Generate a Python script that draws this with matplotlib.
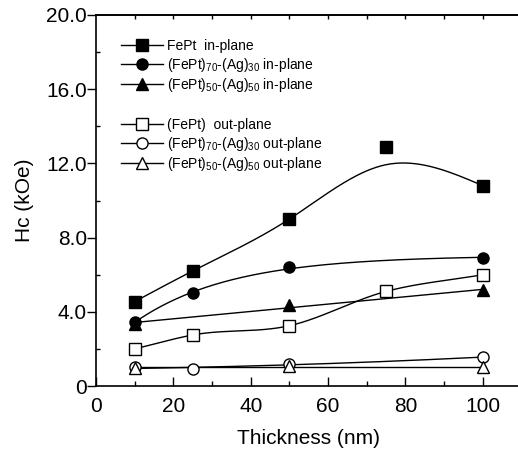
#!/usr/bin/env python

"""Coercivity vs film thickness for FePt and FePt-Ag films"""

import numpy as np
import matplotlib
matplotlib.use('Agg')
import matplotlib.pyplot as plt
from matplotlib.lines import Line2D
from matplotlib.ticker import MultipleLocator, FuncFormatter

plt.rcParams['font.family'] = ['Liberation Sans', 'DejaVu Sans']
plt.rcParams['mathtext.fontset'] = 'custom'
plt.rcParams['mathtext.rm'] = 'Liberation Sans'
plt.rcParams['mathtext.default'] = 'rm'

# thickness (nm) and Hc (kOe)
fept_in_x = [10, 25, 50, 75, 100]
fept_in_y = [4.55, 6.2, 9.0, 12.9, 10.8]
ag30_in_x = [10, 25, 50, 100]
ag30_in_y = [3.45, 5.0, 6.4, 6.9]
ag50_in_x = [10, 50, 100]
ag50_in_y = [3.35, 4.35, 5.15]
fept_out_x = [10, 25, 50, 75, 100]
fept_out_y = [2.0, 2.75, 3.25, 5.1, 6.0]
ag30_out_x = [10, 25, 50, 100]
ag30_out_y = [1.0, 0.9, 1.2, 1.55]
ag50_out_x = [10, 50, 100]
ag50_out_y = [0.97, 1.09, 1.04]

labels = [
    'FePt  in-plane',
    r'(FePt)$_{70}$-(Ag)$_{30}$ in-plane',
    r'(FePt)$_{50}$-(Ag)$_{50}$ in-plane',
    '(FePt)  out-plane',
    r'(FePt)$_{70}$-(Ag)$_{30}$ out-plane',
    r'(FePt)$_{50}$-(Ag)$_{50}$ out-plane',
]


def poly_curve(x, y, deg):
    """Least squares polynomial"""
    x = np.asarray(x, float)
    xs = np.linspace(x.min(), x.max(), 200)
    return xs, np.polyval(np.polyfit(x, y, deg), xs)


def exp_curve(x, y):
    """Least squares y = A - B exp(-x / tau), tau by grid search"""
    x = np.asarray(x, float)
    y = np.asarray(y, float)
    best = None
    for tau in np.linspace(5, 200, 800):
        M = np.column_stack([np.ones_like(x), -np.exp(-x / tau)])
        coef = np.linalg.lstsq(M, y, rcond=None)[0]
        err = np.sum((M @ coef - y) ** 2)
        if best is None or err < best[0]:
            best = (err, tau, coef)
    _, tau, (A, B) = best
    xs = np.linspace(x.min(), x.max(), 200)
    return xs, A - B * np.exp(-xs / tau)


def hermite_curve(x, y):
    """Cubic hermite curve through the points"""
    x = np.asarray(x, float)
    y = np.asarray(y, float)
    m = np.gradient(y, x)
    xs, ys = [], []
    t = np.linspace(0, 1, 50)
    for i in range(len(x) - 1):
        h = x[i + 1] - x[i]
        h00 = 2 * t**3 - 3 * t**2 + 1
        h10 = t**3 - 2 * t**2 + t
        h01 = -2 * t**3 + 3 * t**2
        h11 = t**3 - t**2
        xs += list(x[i] + t * h)
        ys += list(h00 * y[i] + h10 * h * m[i] + h01 * y[i + 1] + h11 * h * m[i + 1])
    return np.array(xs), np.array(ys)


def spline_curve(x, y, lam, w):
    """Weighted cubic smoothing spline (Reinsch)"""
    x = np.asarray(x, float)
    y = np.asarray(y, float)
    n = len(x)
    h = np.diff(x)
    Q = np.zeros((n, n - 2))
    R = np.zeros((n - 2, n - 2))
    for j in range(1, n - 1):
        Q[j - 1, j - 1] = 1 / h[j - 1]
        Q[j, j - 1] = -1 / h[j - 1] - 1 / h[j]
        Q[j + 1, j - 1] = 1 / h[j]
        R[j - 1, j - 1] = (h[j - 1] + h[j]) / 3
        if j < n - 2:
            R[j - 1, j] = R[j, j - 1] = h[j] / 6
    Winv = np.diag(1 / np.asarray(w, float))
    gam = np.linalg.solve(R + lam * Q.T @ Winv @ Q, Q.T @ y)
    g = y - lam * Winv @ Q @ gam
    gam = np.concatenate([[0], gam, [0]])
    xs, ys = [], []
    for i in range(n - 1):
        u = np.linspace(x[i], x[i + 1], 60)
        a, b = u - x[i], x[i + 1] - u
        v = (a * g[i + 1] + b * g[i]) / h[i] \
            - a * b / 6 * ((1 + a / h[i]) * gam[i + 1] + (1 + b / h[i]) * gam[i])
        xs += list(u)
        ys += list(v)
    return np.array(xs), np.array(ys)


fig = plt.figure(figsize=(5.18, 4.53), dpi=100)
ax = fig.add_axes([96 / 518, 67 / 453, 425.5 / 518, 371 / 453])

series = [
    (fept_in_x, fept_in_y, 's', 'k', spline_curve(fept_in_x, fept_in_y, 1.0, [1, 1, 1, 0.001, 1])),
    (ag30_in_x, ag30_in_y, 'o', 'k', exp_curve(ag30_in_x, ag30_in_y)),
    (ag50_in_x, ag50_in_y, '^', 'k', poly_curve(ag50_in_x, ag50_in_y, 1)),
    (fept_out_x, fept_out_y, 's', 'w', hermite_curve(fept_out_x, fept_out_y)),
    (ag30_out_x, ag30_out_y, 'o', 'w', poly_curve(ag30_out_x, ag30_out_y, 2)),
    (ag50_out_x, ag50_out_y, '^', 'w', poly_curve(ag50_out_x, ag50_out_y, 0)),
]

handles = []
for x, y, mk, fc, (cx, cy) in series:
    ax.plot(cx, cy, color='k', lw=1.0, zorder=2)
    ax.plot(x, y, linestyle='none', marker=mk, ms=8, mfc=fc, mec='k', mew=1.0, zorder=3)
    handles.append(Line2D([], [], color='k', lw=1.0, marker=mk, ms=8, mfc=fc, mec='k', mew=1.0))

# two legend groups: in-plane and out-plane
leg_kw = dict(loc='upper left', frameon=False, fontsize=10, handlelength=3.0,
              handletextpad=0.3, labelspacing=0.18, borderaxespad=0.0)
leg1 = ax.legend(handles[:3], labels[:3], bbox_to_anchor=(0.046, 0.95), **leg_kw)
ax.add_artist(leg1)
ax.legend(handles[3:], labels[3:], bbox_to_anchor=(0.046, 0.737), **leg_kw)

ax.set_xlim(0, 110)
ax.set_ylim(0, 20)
ax.set_xticks([0, 20, 40, 60, 80, 100])
ax.xaxis.set_minor_locator(MultipleLocator(10))
ax.set_yticks([0, 4, 8, 12, 16, 20])
ax.yaxis.set_minor_locator(MultipleLocator(2))
ax.yaxis.set_major_formatter(FuncFormatter(lambda v, p: '0' if v == 0 else '%.1f' % v))

ax.tick_params(axis='x', which='major', direction='in', length=6.5, width=1.0, labelsize=15, pad=8)
ax.tick_params(axis='x', which='minor', direction='in', length=3.5, width=1.0)
ax.tick_params(axis='y', which='major', direction='out', length=6.5, width=1.0, labelsize=15, pad=0)
ax.tick_params(axis='y', which='minor', direction='in', length=3, width=1.0)

top = ax.secondary_xaxis('top')
top.set_xticks(np.arange(10, 101, 10))
top.tick_params(direction='in', length=3, width=1.0, labeltop=False)
top.spines['top'].set_linewidth(1.2)

ax.spines['right'].set_visible(False)
for s in ['left', 'bottom', 'top']:
    ax.spines[s].set_linewidth(1.2)

ax.set_xlabel('Thickness (nm)', fontsize=15, labelpad=9)
ax.set_ylabel('Hc (kOe)', fontsize=15, labelpad=9)

fig.savefig('out.png', dpi=100)
